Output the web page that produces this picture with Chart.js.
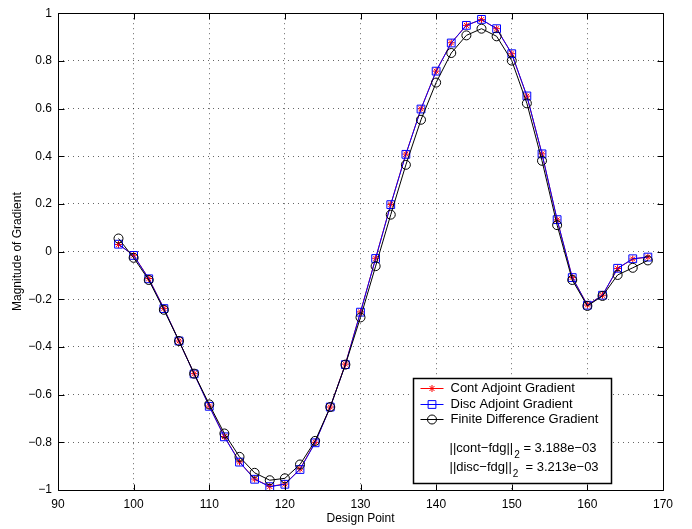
<!DOCTYPE html>
<html>
<head>
<meta charset="utf-8">
<script src="https://cdn.jsdelivr.net/npm/chart.js@4.4.0/dist/chart.umd.min.js"></script>
<style>
  html, body { margin: 0; padding: 0; background: #fff; }
</style>
</head>
<body>
<canvas id="gradChart" width="692" height="529"></canvas>
<script>
// design points along the x axis
const designPts = [98, 100, 102, 104, 106, 108, 110, 112, 114, 116, 118, 120, 122, 124, 126, 128, 130, 132,
                   134, 136, 138, 140, 142, 144, 146, 148, 150, 152, 154, 156, 158, 160, 162, 164, 166, 168];

// gradient values
const contGrad = [0.030, -0.015, -0.113, -0.238, -0.375, -0.512, -0.648, -0.776, -0.882, -0.954, -0.985, -0.975,
                  -0.912, -0.800, -0.652, -0.472, -0.253, -0.028, 0.198, 0.409, 0.599, 0.757, 0.876, 0.949,
                  0.973, 0.935, 0.830, 0.652, 0.410, 0.133, -0.108, -0.224, -0.183, -0.071, -0.031, -0.023];
const discGrad = [0.031, -0.016, -0.114, -0.239, -0.375, -0.513, -0.649, -0.777, -0.883, -0.955, -0.986, -0.976,
                  -0.914, -0.802, -0.652, -0.474, -0.254, -0.029, 0.197, 0.408, 0.598, 0.757, 0.875, 0.949,
                  0.974, 0.935, 0.830, 0.653, 0.410, 0.134, -0.109, -0.225, -0.183, -0.070, -0.030, -0.023];
const fdGrad   = [0.055, -0.026, -0.119, -0.244, -0.375, -0.512, -0.641, -0.763, -0.861, -0.928, -0.959, -0.951,
                  -0.893, -0.794, -0.652, -0.474, -0.276, -0.061, 0.155, 0.364, 0.553, 0.709, 0.833, 0.907,
                  0.935, 0.903, 0.801, 0.622, 0.381, 0.111, -0.119, -0.228, -0.186, -0.098, -0.068, -0.037];

const xTicks = [90, 100, 110, 120, 130, 140, 150, 160, 170];
const yTicks = [-1, -0.8, -0.6, -0.4, -0.2, 0, 0.2, 0.4, 0.6, 0.8, 1];

const seriesNames = ['Cont Adjoint Gradient', 'Disc Adjoint Gradient', 'Finite Difference Gradient'];
const normNames = ['||cont\u2212fdg||', '||disc\u2212fdg||'];
const normValues = [' = 3.188e\u221203', '  = 3.213e\u221203'];

const FONT = '"Liberation Sans", Arial, Helvetica, sans-serif';
Chart.defaults.font.family = FONT;
Chart.defaults.font.size = 12;
Chart.defaults.color = '#000';

const toPts = (ys) => designPts.map((x, i) => ({ x: x, y: ys[i] }));
const minus = (v) => String(v).replace('-', '\u2212');

// matlab style box, inward ticks and the legend box
const matlabFrame = {
  id: 'matlabFrame',
  afterDraw(chart) {
    const ctx = chart.ctx;
    const a = chart.chartArea;
    const xs = chart.scales.x, ys = chart.scales.y;
    const L = Math.round(a.left) + 0.5, R = Math.round(a.right) + 0.5;
    const T = Math.round(a.top) + 0.5, B = Math.round(a.bottom) + 0.5;
    ctx.save();
    ctx.strokeStyle = '#000';
    ctx.lineWidth = 1;
    ctx.beginPath();
    ctx.rect(L, T, R - L, B - T);
    xTicks.forEach(v => {
      const px = Math.round(xs.getPixelForValue(v)) + 0.5;
      ctx.moveTo(px, B); ctx.lineTo(px, B - 6);
      ctx.moveTo(px, T); ctx.lineTo(px, T + 6);
    });
    yTicks.forEach(v => {
      const py = Math.round(ys.getPixelForValue(v)) + 0.5;
      ctx.moveTo(L, py); ctx.lineTo(L + 6, py);
      ctx.moveTo(R, py); ctx.lineTo(R - 6, py);
    });
    ctx.stroke();

    // legend
    const bw = 198, bh = 105;
    const bx = R - 52 - bw, by = B - 7 - bh;
    ctx.fillStyle = '#fff';
    ctx.fillRect(bx, by, bw, bh);
    ctx.lineWidth = 1.5;
    ctx.strokeRect(bx, by, bw, bh);

    ctx.font = '13px ' + FONT;
    ctx.textBaseline = 'middle';
    ctx.textAlign = 'left';
    const rows = [10, 26, 41];
    chart.data.datasets.forEach((ds, i) => {
      const y = by + rows[i];
      ctx.strokeStyle = ds.borderColor;
      ctx.lineWidth = 1;
      ctx.beginPath();
      ctx.moveTo(bx + 7, y); ctx.lineTo(bx + 30, y);
      ctx.stroke();
      ctx.fillStyle = 'rgba(0,0,0,0)';
      ctx.strokeStyle = ds.pointBorderColor;
      Chart.helpers.drawPoint(ctx, { pointStyle: ds.pointStyle, radius: ds.pointRadius, borderWidth: 1, rotation: 0 }, bx + 18.5, y);
      ctx.fillStyle = '#000';
      ctx.fillText(seriesNames[i], bx + 37, y);
    });

    const normRows = [70, 89];
    normNames.forEach((n, i) => {
      const y = by + normRows[i];
      let x = bx + 36;
      ctx.font = '13px ' + FONT;
      ctx.fillText(n, x, y);
      x += ctx.measureText(n).width;
      ctx.font = '10px ' + FONT;
      ctx.fillText('2', x + 1, y + 7);
      x += ctx.measureText('2').width + 1;
      ctx.font = '13px ' + FONT;
      ctx.fillText(normValues[i], x, y);
    });
    ctx.restore();
  }
};

new Chart(document.getElementById('gradChart'), {
  type: 'line',
  data: {
    datasets: [
      {
        label: seriesNames[0],
        data: toPts(contGrad),
        borderColor: '#ff0000',
        pointBorderColor: '#ff0000',
        pointBackgroundColor: 'rgba(0,0,0,0)',
        pointStyle: 'star',
        pointRadius: 3.5,
        pointBorderWidth: 1,
        borderWidth: 1,
        order: 3,
        clip: false
      },
      {
        label: seriesNames[1],
        data: toPts(discGrad),
        borderColor: '#0000ff',
        pointBorderColor: '#0000ff',
        pointBackgroundColor: 'rgba(0,0,0,0)',
        pointStyle: 'rect',
        pointRadius: 5.5,
        pointBorderWidth: 1,
        borderWidth: 1,
        order: 2,
        clip: false
      },
      {
        label: seriesNames[2],
        data: toPts(fdGrad),
        borderColor: '#000000',
        pointBorderColor: '#000000',
        pointBackgroundColor: 'rgba(0,0,0,0)',
        pointStyle: 'circle',
        pointRadius: 4.5,
        pointBorderWidth: 1,
        borderWidth: 1,
        order: 1,
        clip: false
      }
    ]
  },
  options: {
    responsive: false,
    animation: false,
    devicePixelRatio: 1,
    layout: { padding: { top: 11, right: 29, left: 0, bottom: 0 } },
    plugins: {
      legend: { display: false },
      tooltip: { enabled: false }
    },
    elements: { line: { tension: 0 } },
    scales: {
      x: {
        type: 'linear',
        min: 90,
        max: 170,
        afterBuildTicks: (s) => { s.ticks = xTicks.map(v => ({ value: v })); },
        afterFit: (s) => { s.height = 39; },
        ticks: { padding: 7, maxRotation: 0, font: { size: 12 }, callback: (v) => minus(v) },
        grid: { color: 'rgba(0,0,0,0.6)', lineWidth: 1, drawTicks: false },
        border: { display: false, dash: [1, 4] },
        title: { display: true, text: 'Design Point', font: { size: 12 }, padding: { top: 0, bottom: 3 } }
      },
      y: {
        min: -1,
        max: 1,
        afterBuildTicks: (s) => { s.ticks = yTicks.map(v => ({ value: v })); },
        afterFit: (s) => { s.width = 58; },
        ticks: { padding: 6, font: { size: 12 }, callback: (v) => minus(v) },
        grid: { color: 'rgba(0,0,0,0.6)', lineWidth: 1, drawTicks: false },
        border: { display: false, dash: [1, 4] },
        title: { display: true, text: 'Magnitude of Gradient', font: { size: 12 }, padding: { top: 10, bottom: 0 } }
      }
    }
  },
  plugins: [matlabFrame]
});
</script>
</body>
</html>
